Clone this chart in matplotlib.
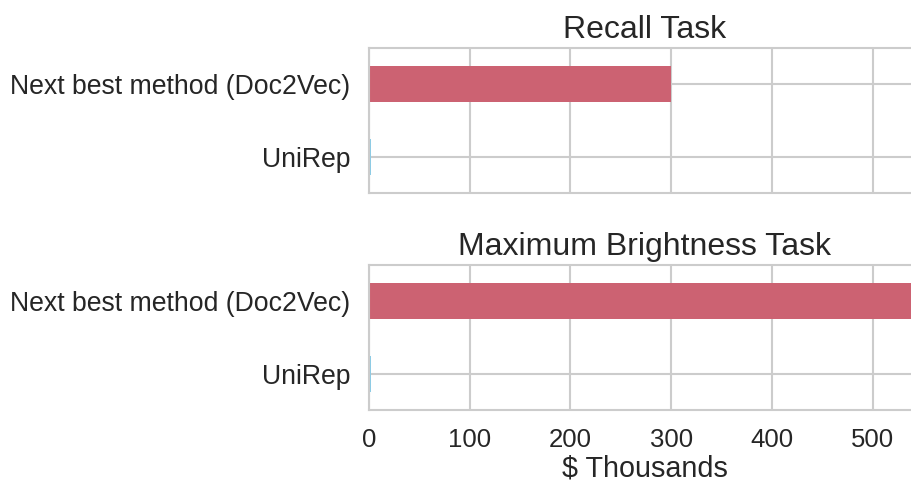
import matplotlib
matplotlib.use("Agg")
import matplotlib.pyplot as plt

methods = ["Next best method (Doc2Vec)", "UniRep"]
recall_cost = [300, 1.5]
brightness_cost = [580, 1.5]
titles = ["Recall Task", "Maximum Brightness Task"]
xticks = [0, 100, 200, 300, 400, 500]
bar_colors = ["#cc6272", "#8ccbe6"]

plt.rcParams['font.family'] = ['Liberation Sans', 'DejaVu Sans']

fig = plt.figure(figsize=(9.11, 4.83), dpi=100)
left = 369 / 911
width = (921 - 369) / 911
ax1 = fig.add_axes([left, 1 - 193 / 483, width, 145 / 483])
ax2 = fig.add_axes([left, 1 - 410 / 483, width, 145 / 483])

for ax, vals, title in zip([ax1, ax2], [recall_cost, brightness_cost], titles):
    ax.set_axisbelow(True)
    ax.barh(range(len(methods)), vals, height=0.5, color=bar_colors)
    ax.set_ylim(1.5, -0.5)
    ax.set_xlim(0, 548)
    ax.set_xticks(xticks)
    ax.set_yticks(range(len(methods)))
    ax.set_yticklabels(methods, fontsize=19.2, color="#262626")
    ax.grid(True, color="#cccccc", linewidth=1.5)
    for s in ax.spines.values():
        s.set_color("#cccccc")
        s.set_linewidth(1.5)
    ax.tick_params(length=0, pad=13.5)
    ax.set_title(title, fontsize=23, color="#262626", pad=7)

ax1.tick_params(axis='x', labelbottom=False)
ax2.tick_params(axis='x', labelsize=18.5, labelcolor="#262626", pad=13)
ax2.set_xlabel("$ Thousands", fontsize=20.7, color="#262626", labelpad=1.5)

fig.savefig("out.png", dpi=100)
